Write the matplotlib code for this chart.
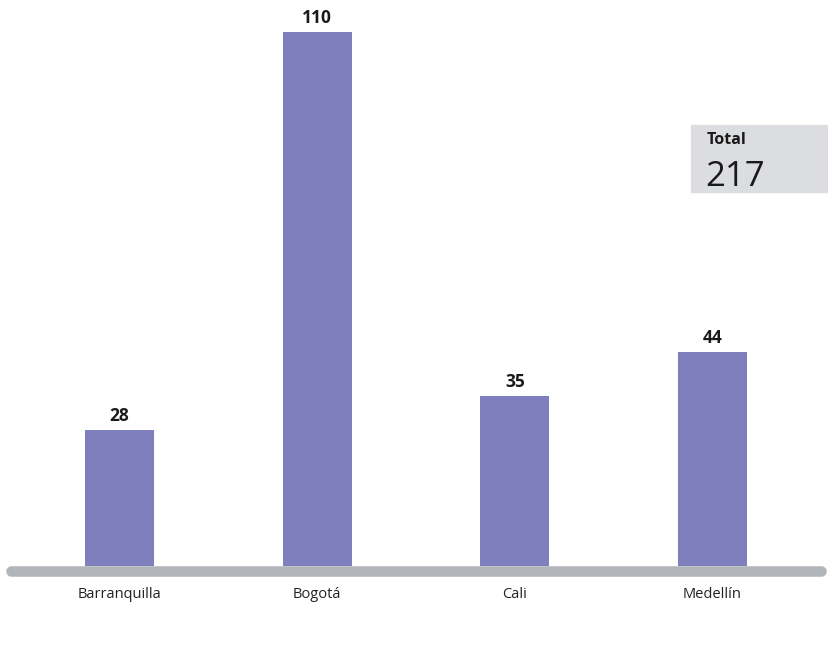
import matplotlib.pyplot as plt
from matplotlib.patches import Rectangle

ciudades = ["Barranquilla", "Bogotá", "Cali", "Medellín"]
valores = [28, 110, 35, 44]
total = 217

plt.rcParams['font.family'] = ['Open Sans', 'DejaVu Sans']

color_barra = "#7f7fbe"
color_base = "#b1b5ba"

fig = plt.figure(figsize=(8.29, 6.52), dpi=100)
ax = fig.add_axes([0, 0, 1, 1])
ax.set_xlim(-0.604, 3.589)
ax.set_ylim(-17.7, 116.6)
ax.axis("off")

x = list(range(len(ciudades)))
ax.bar(x, valores, width=0.35, color=color_barra, zorder=2)

# linea base gris
ax.plot([-0.549, 3.549], [-1.05, -1.05], lw=7.6, color=color_base,
        solid_capstyle="round", zorder=3)

for xi, v, c in zip(x, valores, ciudades):
    ax.text(xi, v + 1.1, str(v), ha="center", va="bottom", fontsize=12.5,
            fontweight="bold", color="#1a1a1a")
    ax.text(xi, -4.4, c, ha="center", va="top", fontsize=10.5, color="#222222")

# recuadro total
fig.patches.append(Rectangle((691 / 829, 1 - 192 / 652), 138 / 829, 67 / 652,
                             transform=fig.transFigure, color="#dcdde0", zorder=0))
fig.text(707 / 829, 1 - 132 / 652, "Total", ha="left", va="top", fontsize=11.5,
         fontweight="bold", color="#1a1a1a")
fig.text(705 / 829, 1 - 186 / 652, str(total), ha="left", va="baseline",
         fontsize=25, color="#1a1a1a")

fig.savefig("out.png", dpi=100)
plt.close(fig)
